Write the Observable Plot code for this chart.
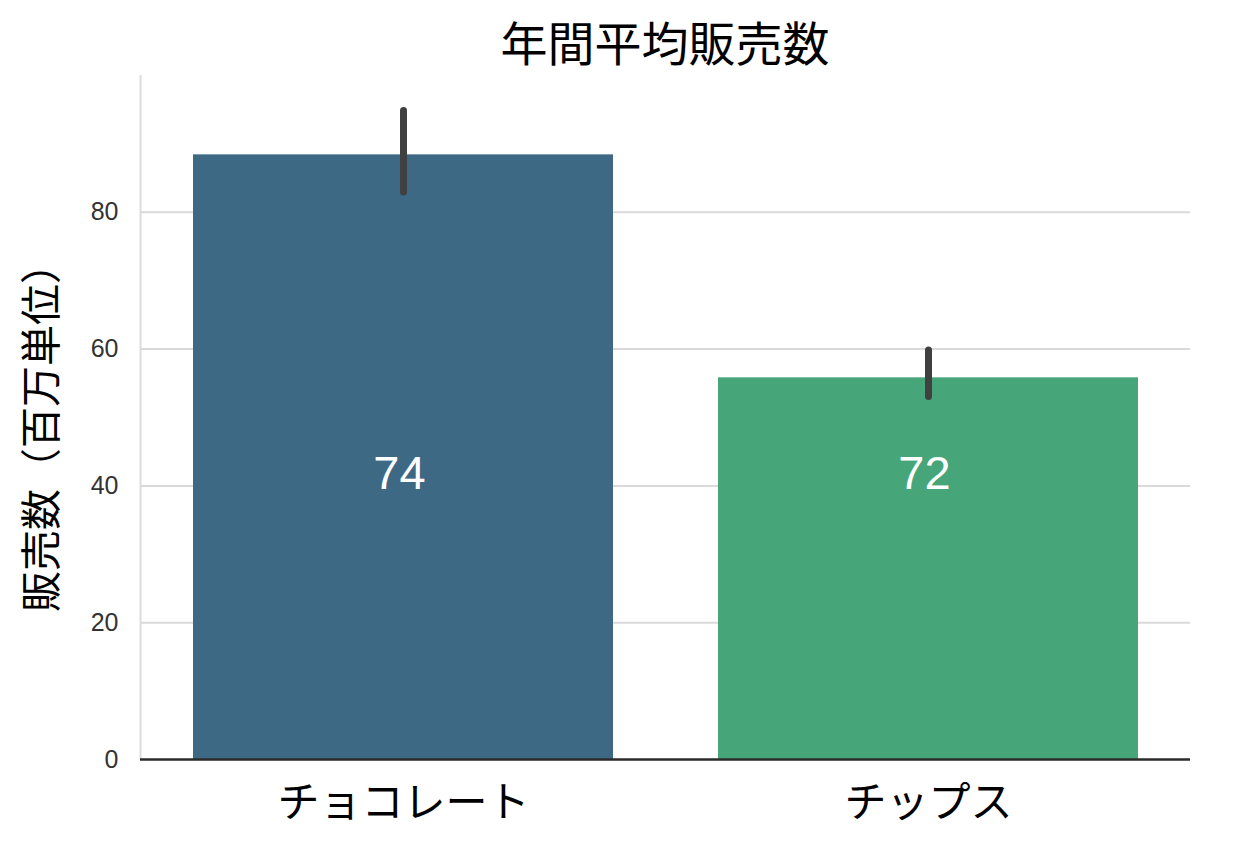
<!DOCTYPE html>
<html>
<head>
<meta charset="utf-8">
<script src="https://cdn.jsdelivr.net/npm/d3@7"></script>
<script src="https://cdn.jsdelivr.net/npm/@observablehq/plot@0.6"></script>
<style>
  body { margin: 0; background: #fff; }
  #title { width: 1235px; height: 75px; box-sizing: border-box; padding: 11px 45px 0 140px;
    text-align: center; font-family: "Noto Sans CJK JP", sans-serif; font-size: 47px; line-height: 60px; color: #000; }
</style>
</head>
<body>
<div id="title"></div>
<div id="chart"></div>
<script>
const titleText = "年間平均販売数";
const yLabel = "販売数（百万単位）";
const categories = ["チョコレート", "チップス"];
const means = [88.4, 55.8];
const ciLow = [82.9, 53.0];
const ciHigh = [94.8, 59.8];
const labels = ["74", "72"];
const labelY = [41.7, 41.7];
const colors = ["#3e6985", "#46a679"];
const yTicks = [0, 20, 40, 60, 80];

document.getElementById("title").textContent = titleText;

const data = categories.map((c, i) => ({cat: c, mean: means[i], lo: ciLow[i], hi: ciHigh[i], label: labels[i], ly: labelY[i]}));

const chart = Plot.plot({
  width: 1235,
  height: 789,
  marginTop: 0,
  marginLeft: 140,
  marginRight: 45,
  marginBottom: 105,
  x: {domain: categories, paddingInner: 0.2, paddingOuter: 0.1, label: null},
  y: {domain: [0, 100], label: null},
  color: {domain: categories, range: colors},
  style: {background: "#fff"},
  marks: [
    Plot.gridY(yTicks.filter(d => d > 0), {stroke: "#d9d9d9", strokeOpacity: 1, strokeWidth: 2}),
    Plot.frame({anchor: "left", stroke: "#dcdcdc", strokeWidth: 2}),
    Plot.barY(data, {x: "cat", y: "mean", fill: "cat"}),
    Plot.ruleX(data, {x: "cat", y1: "lo", y2: "hi", stroke: "#404040", strokeWidth: 7, strokeLinecap: "round"}),
    Plot.text(data, {x: "cat", y: "ly", text: "label", fill: "white", fontSize: 47, fontFamily: "Liberation Sans, Arial, sans-serif", dx: -4}),
    Plot.ruleY([0], {stroke: "#2b2b2b", strokeWidth: 2.5}),
    Plot.axisY({ticks: yTicks, tickSize: 0, tickPadding: 22, fontSize: 25, fill: "#333", fontFamily: "Liberation Sans, Arial, sans-serif", label: null}),
    Plot.axisX({tickSize: 0, tickPadding: 28, fontSize: 42, fill: "#000", fontFamily: "Noto Sans CJK JP, sans-serif", label: null}),
    Plot.text([yLabel], {frameAnchor: "left", textAnchor: "middle", rotate: -90, dx: -98, dy: 10, fontSize: 41, fill: "#000", fontFamily: "Noto Sans CJK JP, sans-serif"})
  ]
});
document.getElementById("chart").appendChild(chart);
</script>
</body>
</html>
